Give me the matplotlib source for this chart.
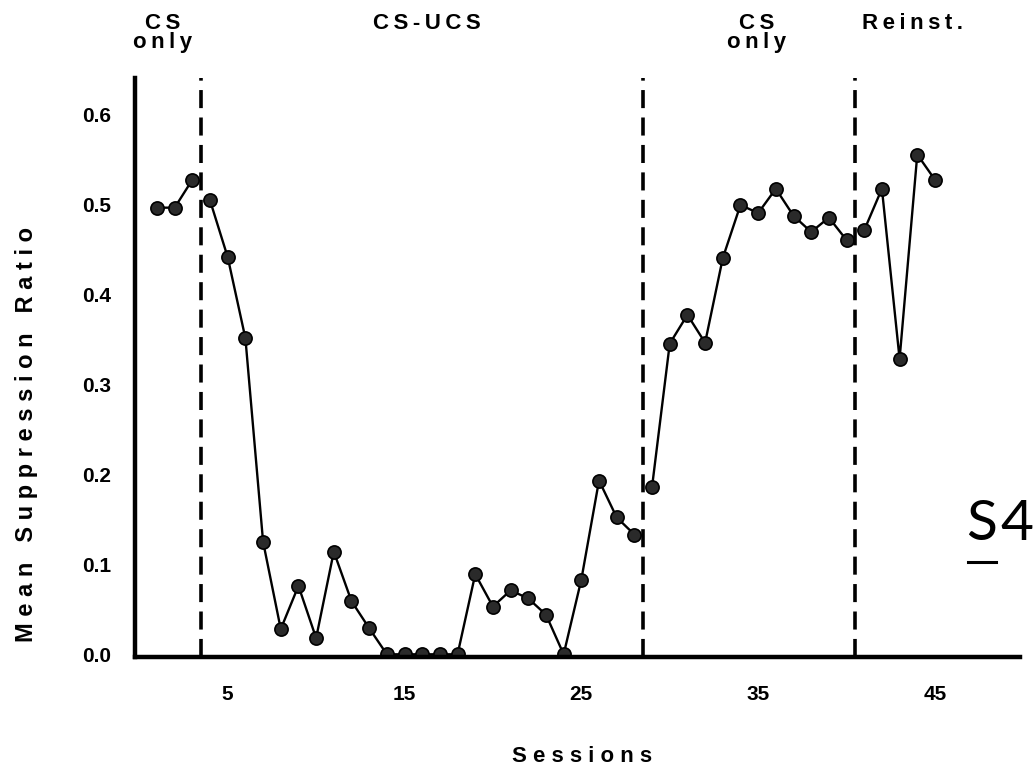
import matplotlib
matplotlib.use('Agg')
import matplotlib.pyplot as plt
from matplotlib.lines import Line2D

# sessions and mean suppression ratio, by phase
cs_only_1 = [1, 2, 3]
cs_only_1_vals = [0.496, 0.496, 0.527]

cs_ucs = list(range(4, 29))
cs_ucs_vals = [0.504, 0.441, 0.351, 0.125, 0.028, 0.076, 0.018, 0.114, 0.059, 0.029,
               0.0, 0.0, 0.0, 0.0, 0.0, 0.089, 0.053, 0.071, 0.062, 0.044,
               0.0, 0.083, 0.193, 0.152, 0.133]

cs_only_2 = list(range(29, 41))
cs_only_2_vals = [0.186, 0.345, 0.377, 0.346, 0.440, 0.499, 0.490, 0.517, 0.487, 0.469,
                  0.485, 0.460]

reinst = list(range(41, 46))
reinst_vals = [0.471, 0.517, 0.328, 0.555, 0.527]

phase_breaks = [3.5, 28.5, 40.5]
phase_names = ['CS\nonly', 'CS-UCS', 'CS\nonly', 'Reinst.']

xticks = [5, 15, 25, 35, 45]
yticks = [0.0, 0.1, 0.2, 0.3, 0.4, 0.5, 0.6]

plt.rcParams['font.family'] = ['Liberation Sans', 'DejaVu Sans']

W, H = 1035, 775
fig = plt.figure(figsize=(W / 100, H / 100), dpi=100)
ax = fig.add_axes([135 / W, 1 - 657 / H, 885 / W, 579 / H])

for xs, ys in [(cs_only_1, cs_only_1_vals), (cs_ucs, cs_ucs_vals),
               (cs_only_2, cs_only_2_vals), (reinst, reinst_vals)]:
    ax.plot(xs, ys, color='black', lw=1.7, marker='o', ms=9.5,
            mfc='#2a2a2a', mec='black', mew=1.2)

for b in phase_breaks:
    ax.axvline(b, color='black', lw=2.6, dashes=(5, 2.6))

ax.set_xlim(-0.244, 49.81)
ax.set_ylim(-0.003, 0.64)
ax.set_xticks(xticks)
ax.set_yticks(yticks)
ax.set_yticklabels([f'{v:.1f}' for v in yticks])
ax.tick_params(length=0, labelsize=15)
ax.tick_params(axis='x', pad=20)
ax.tick_params(axis='y', pad=17)
for lab in ax.get_xticklabels() + ax.get_yticklabels():
    lab.set_fontweight('bold')

for s in ['top', 'right']:
    ax.spines[s].set_visible(False)
for s in ['left', 'bottom']:
    ax.spines[s].set_linewidth(3.2)

fig.text(582 / W, 1 - 756 / H, 'S e s s i o n s', ha='center', va='center',
         fontsize=16, fontweight='bold')
fig.text(27 / W, 1 - 435 / H, 'M e a n   S u p p r e s s i o n   R a t i o',
         ha='center', va='center', rotation=90, fontsize=17, fontweight='bold')

# phase labels along the top, letter-spaced like the original
label_x = [163, 427, 757, 912]
for name, px in zip(phase_names, label_x):
    spaced = '\n'.join('\u2009'.join(line) for line in name.split('\n'))
    fig.text(px / W, 1 - 13 / H, spaced, ha='center', va='top', fontsize=16,
             fontweight='bold', linespacing=0.85)

# subject label
sfont = dict(fontsize=41, family=['Lato', 'DejaVu Sans'], fontweight='normal',
             ha='center', va='center')
fig.text(982 / W, 1 - 524 / H, 'S', **sfont)
fig.text(1017 / W, 1 - 524 / H, '4', **sfont)
fig.add_artist(Line2D([968 / W, 996 / W], [1 - 562 / H, 1 - 562 / H],
                      color='black', lw=2.2))

fig.savefig('out.png', dpi=100)
